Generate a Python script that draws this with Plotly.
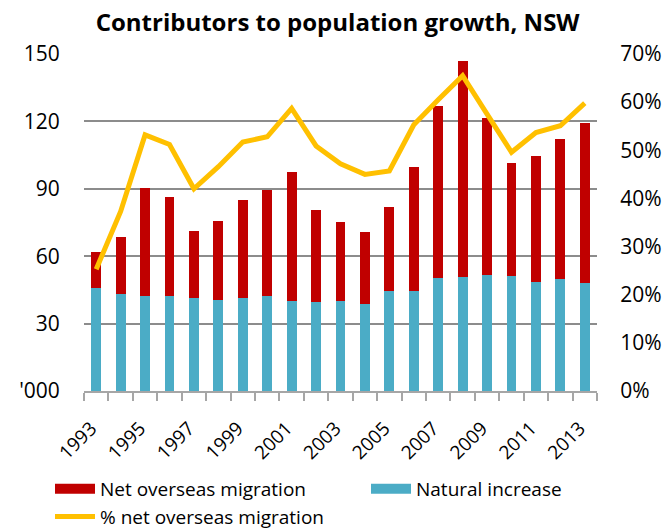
import plotly.graph_objects as go

years = list(range(1993, 2014))
natural_increase = [46.0, 43.2, 42.3, 42.1, 41.5, 40.6, 41.2, 42.3, 40.0, 39.6,
                    39.9, 38.9, 44.5, 44.5, 50.1, 50.6, 51.5, 51.2, 48.5, 50.0, 48.1]
total_growth = [61.7, 68.7, 90.5, 86.5, 71.2, 75.8, 85.0, 89.6, 97.3, 80.5,
                75.3, 70.6, 82.0, 99.7, 127.0, 147.0, 121.5, 101.3, 104.4, 112.0, 119.4]
net_overseas = [round(t - n, 1) for t, n in zip(total_growth, natural_increase)]
pct_nom = [25.3, 37.3, 53.2, 51.2, 42.0, 46.6, 51.7, 52.8, 58.7, 50.9,
           47.2, 45.0, 45.7, 55.3, 60.5, 65.5, 57.5, 49.6, 53.7, 55.1, 59.8]

left_ticks = [0, 30, 60, 90, 120, 150]
left_text = ["'000", "30", "60", "90", "120", "150"]
right_ticks = [0, 10, 20, 30, 40, 50, 60, 70]
label_years = [y for y in years if y % 2 == 1]

FONT = "'Open Sans', sans-serif"
RED = "#C00000"
TEAL = "#4BACC6"
GOLD = "#FFC000"

fig = go.Figure()
fig.add_trace(go.Bar(x=years, y=natural_increase, name="Natural increase",
                     marker=dict(color=TEAL, line=dict(width=0)), showlegend=False))
fig.add_trace(go.Bar(x=years, y=net_overseas, name="Net overseas migration",
                     marker=dict(color=RED, line=dict(width=0)), showlegend=False))
fig.add_trace(go.Scatter(x=years, y=pct_nom, name="% net overseas migration",
                         mode="lines", line=dict(color=GOLD, width=5),
                         yaxis="y2", showlegend=False))
# legend entries (legend-only keys)
fig.add_trace(go.Scatter(x=[None], y=[None], name="Net overseas migration",
                         mode="lines", line=dict(color=RED, width=13),
                         legend="legend"))
fig.add_trace(go.Scatter(x=[None], y=[None], name="% net overseas migration",
                         mode="lines", line=dict(color=GOLD, width=5),
                         legend="legend"))
fig.add_trace(go.Scatter(x=[None], y=[None], name="Natural increase",
                         mode="lines", line=dict(color=TEAL, width=13),
                         legend="legend2"))

fig.update_layout(
    width=662, height=530,
    margin=dict(l=84, r=65, t=54, b=139),
    paper_bgcolor="white", plot_bgcolor="white",
    barmode="stack", bargap=0.6,
    font=dict(family=FONT, size=21, color="black"),
    title=dict(text="<b>Contributors to population growth, NSW</b>",
               x=0.51, xanchor="center", y=0.958, yanchor="middle",
               font=dict(size=24, family=FONT)),
    xaxis=dict(range=[1992.5, 2013.5], tickvals=label_years,
               ticktext=[str(y) for y in label_years], tickangle=-45,
               ticks="outside", ticklen=17, tickcolor="rgba(0,0,0,0)",
               ticklabelshift=-5,
               showline=True, linecolor="#A6A6A6", linewidth=1.5,
               showgrid=False, zeroline=False, automargin=False,
               minor=dict(tickvals=[y + 0.5 for y in range(1992, 2014)],
                          ticks="outside", ticklen=8, tickcolor="#A6A6A6",
                          tickwidth=1.5, showgrid=False),
               tickfont=dict(size=19)),
    yaxis=dict(range=[0, 150], tickvals=left_ticks, ticktext=left_text,
               showgrid=True, gridcolor="#8C8C8C", gridwidth=1.5,
               zeroline=False, showline=False, ticks="outside", ticklen=19,
               tickcolor="rgba(0,0,0,0)", automargin=False),
    yaxis2=dict(range=[0, 70], tickvals=right_ticks,
                ticktext=[f"{v}%" for v in right_ticks], overlaying="y",
                side="right", showgrid=False, zeroline=False, showline=False,
                ticks="outside", ticklen=18, tickcolor="rgba(0,0,0,0)",
                automargin=False),
    legend=dict(orientation="h", xref="container", yref="container",
                x=50 / 662, xanchor="left", y=(530 - 470) / 530, yanchor="top",
                entrywidth=261, font=dict(size=19), traceorder="normal",
                itemwidth=40),
    legend2=dict(orientation="h", xref="container", yref="container",
                 x=366 / 662, xanchor="left", y=(530 - 470) / 530, yanchor="top",
                 font=dict(size=19), itemwidth=40),
)

fig.write_html("out.html")
